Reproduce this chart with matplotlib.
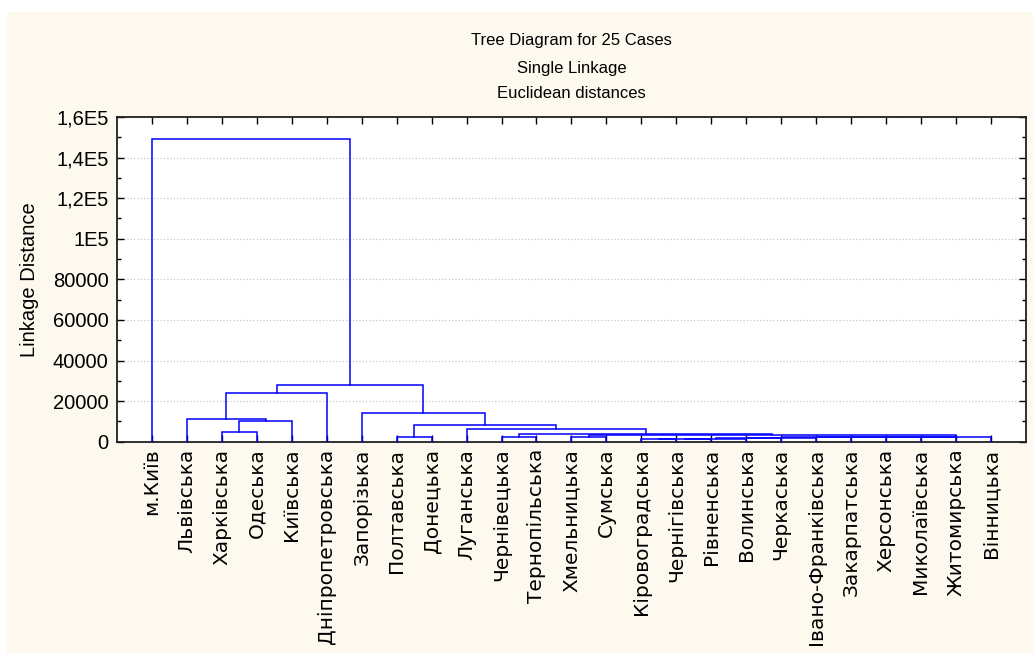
import numpy as np
import matplotlib.pyplot as plt
from matplotlib.patches import Rectangle
from matplotlib.ticker import MultipleLocator

# data
leaves = ["м.Київ", "Львівська", "Харківська", "Одеська", "Київська",
          "Дніпропетровська", "Запорізька", "Полтавська", "Донецька", "Луганська",
          "Чернівецька", "Тернопільська", "Хмельницька", "Сумська", "Кіровоградська",
          "Чернігівська", "Рівненська", "Волинська", "Черкаська", "Івано-Франківська",
          "Закарпатська", "Херсонська", "Миколаївська", "Житомирська", "Вінницька"]

# merges: node ids 0..24 are leaves, 25+ are merges in this order
merge_left = [2, 25, 1, 27, 7, 10, 12, 14, 32, 33, 34, 35, 36, 37, 38, 39, 40,
              31, 30, 9, 29, 6, 28, 0]
merge_right = [3, 4, 26, 5, 8, 11, 13, 15, 16, 17, 18, 19, 20, 21, 22, 23, 24,
               41, 42, 43, 44, 45, 46, 47]
merge_height = [4600, 10200, 11200, 23800, 2100, 2500, 2150, 1150, 1300, 1450,
                1900, 2000, 2100, 2200, 2300, 2350, 2460, 3300, 3800, 6100,
                8200, 14000, 27900, 149000]

ytick_vals = [0, 20000, 40000, 60000, 80000, 100000, 120000, 140000, 160000]
ytick_labels = ["0", "20000", "40000", "60000", "80000", "1E5", "1,2E5", "1,4E5", "1,6E5"]

n = len(leaves)
pos = list(range(n))
hgt = [0.0] * n

fig = plt.figure(figsize=(10.33, 6.53), dpi=100, facecolor="white")
bg = Rectangle((7 / 1033, 0), 1 - 7 / 1033, 1 - 12 / 653,
               transform=fig.transFigure, facecolor="#fef9ee",
               edgecolor="none", zorder=-10)
fig.add_artist(bg)

ax = fig.add_axes([0.1133, 0.3236, 0.8797, 0.4972])
ax.set_zorder(1)
ax.set_facecolor("white")

for l, r, h in zip(merge_left, merge_right, merge_height):
    xl, xr = pos[l], pos[r]
    ax.plot([xl, xl, xr, xr], [hgt[l], h, h, hgt[r]], color="#0000ff", lw=1.1,
            solid_joinstyle="miter", zorder=3)
    pos.append((xl + xr) / 2)
    hgt.append(h)

ax.set_xlim(-1, n)
ax.set_ylim(0, 160000)

ax.set_xticks(range(n))
ax.set_xticklabels(leaves, rotation=90, fontsize=14.5, family="DejaVu Sans",
                   va="top", ha="center")
ax.set_yticks(ytick_vals)
ax.set_yticklabels(ytick_labels, fontsize=14.5, family="Liberation Sans")
ax.yaxis.set_minor_locator(MultipleLocator(10000))

ax.tick_params(which="both", direction="in", top=True, right=True, color="black")
ax.tick_params(which="major", length=5, width=1.0)
ax.tick_params(which="minor", length=3, width=1.0)
ax.tick_params(axis="x", pad=5)
ax.tick_params(axis="y", pad=6)

ax.grid(axis="y", which="major", color="#c8c8c8", linestyle=":", linewidth=0.9)
ax.set_axisbelow(True)

for s in ax.spines.values():
    s.set_linewidth(1.3)
    s.set_color("#202020")

ax.set_ylabel("Linkage Distance", fontsize=14.5, family="Liberation Sans", labelpad=10)

cx = 0.1133 + 0.8797 / 2
fig.text(cx, 1 - 41 / 653, "Tree Diagram for 25 Cases", ha="center", va="center",
         fontsize=12, family="Liberation Sans")
fig.text(cx, 1 - 68 / 653, "Single Linkage", ha="center", va="center",
         fontsize=12, family="Liberation Sans")
fig.text(cx, 1 - 94 / 653, "Euclidean distances", ha="center", va="center",
         fontsize=12, family="Liberation Sans")

fig.savefig("out.png", dpi=100, facecolor=fig.get_facecolor())
